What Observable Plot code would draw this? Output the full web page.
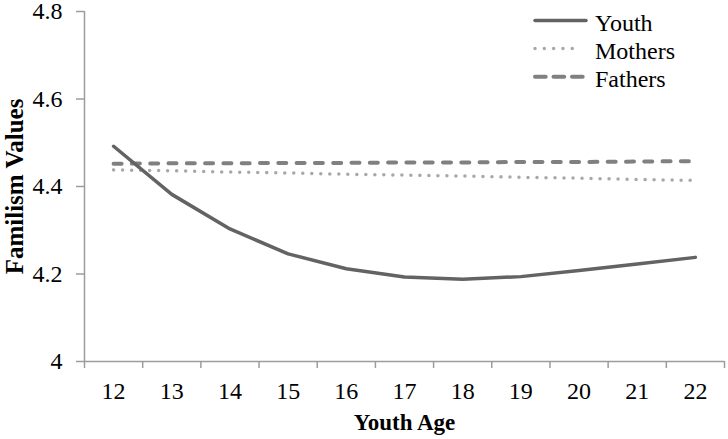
<!DOCTYPE html>
<html>
<head>
<meta charset="utf-8">
<script src="https://cdn.jsdelivr.net/npm/d3@7"></script>
<script src="https://cdn.jsdelivr.net/npm/@observablehq/plot@0.6"></script>
<style>
  html, body { margin: 0; padding: 0; background: #fff; }
  #wrap { position: relative; width: 728px; height: 439px; font-family: "Liberation Serif", "Times New Roman", serif; }
  #wrap svg, #wrap text { font-family: "Liberation Serif", "Times New Roman", serif; }
  #legend { position: absolute; left: 520px; top: 0px; }
</style>
</head>
<body>
<div id="wrap"></div>
<script>
const ages = [12, 13, 14, 15, 16, 17, 18, 19, 20, 21, 22];
const youth = [4.492, 4.382, 4.303, 4.246, 4.212, 4.193, 4.188, 4.194, 4.208, 4.223, 4.238];
const mothers = [4.438, 4.436, 4.433, 4.431, 4.428, 4.426, 4.424, 4.421, 4.419, 4.416, 4.414];
const fathers = [4.452, 4.453, 4.453, 4.454, 4.454, 4.455, 4.455, 4.456, 4.456, 4.457, 4.458];
const yTicks = [4, 4.2, 4.4, 4.6, 4.8];
const seriesNames = ["Youth", "Mothers", "Fathers"];
const xTitle = "Youth Age";
const yTitle = "Familism Values";

const fontStack = "'Liberation Serif', 'Times New Roman', serif";
const styles = {
  Youth: { stroke: "#636363", strokeWidth: 3.5, strokeDasharray: null, legendDash: null },
  Mothers: { stroke: "#a8a8a8", strokeWidth: 3.5, strokeDasharray: "0.01 9", legendDash: "0.01 9.3" },
  Fathers: { stroke: "#808080", strokeWidth: 4, strokeDasharray: "8 10.3", legendDash: "10.7 7.8" }
};
const seriesValues = { Youth: youth, Mothers: mothers, Fathers: fathers };

const rows = (name) => ages.map((a, i) => ({ age: a, value: seriesValues[name][i] }));
const boundaries = [ages[0] - 0.5, ...ages.map(a => a + 0.5)];
const axisColor = "#9c9c9c";

const lineMark = (name) => Plot.line(rows(name), {
  x: "age", y: "value",
  stroke: styles[name].stroke,
  strokeWidth: styles[name].strokeWidth,
  strokeDasharray: styles[name].strokeDasharray,
  strokeLinecap: "round",
  strokeLinejoin: "round"
});

const chart = Plot.plot({
  width: 728,
  height: 439,
  marginLeft: 84,
  marginRight: 4,
  marginTop: 11,
  marginBottom: 78,
  style: { fontFamily: fontStack, fontSize: "24px", color: "#000", background: "#fff", overflow: "visible" },
  x: { type: "linear", domain: [boundaries[0], boundaries[boundaries.length - 1]] },
  y: { domain: [yTicks[0], yTicks[yTicks.length - 1]] },
  marks: [
    Plot.ruleX([boundaries[0]], { stroke: axisColor, strokeWidth: 1.5 }),
    Plot.ruleY([yTicks[0]], { stroke: axisColor, strokeWidth: 1.5 }),
    Plot.axisY({ ticks: yTicks, tickSize: 8, tickPadding: 14, stroke: axisColor, strokeWidth: 1.5, fill: "#000",
      tickFormat: d => (d === 4 ? "4" : d.toFixed(1)), label: null }),
    Plot.axisX({ ticks: boundaries, tickSize: 7, stroke: axisColor, strokeWidth: 1.5, tickFormat: () => "", label: null }),
    Plot.axisX({ ticks: ages, tickSize: 0, tickPadding: 20, fill: "#000", tickFormat: d => String(d), label: null }),
    lineMark("Fathers"),
    lineMark("Mothers"),
    lineMark("Youth"),
    Plot.text([xTitle], { frameAnchor: "bottom", lineAnchor: "middle", textAnchor: "middle", dy: 61.5, fontWeight: "bold", fontSize: 23, fill: "#000" }),
    Plot.text([yTitle], { frameAnchor: "left", lineAnchor: "middle", textAnchor: "middle", dx: -70, dy: 0, rotate: -90, fontWeight: "bold", fontSize: 25, fill: "#000" })
  ]
});

const wrap = document.getElementById("wrap");
wrap.appendChild(chart);

// Legend
const ns = "http://www.w3.org/2000/svg";
const leg = document.createElementNS(ns, "svg");
leg.setAttribute("id", "legend");
leg.setAttribute("width", 200);
leg.setAttribute("height", 100);
seriesNames.forEach((name, i) => {
  const y = 20.5 + i * 28.1;
  const s = styles[name];
  const ln = document.createElementNS(ns, "line");
  ln.setAttribute("x1", 15); ln.setAttribute("x2", name === "Mothers" ? 61 : 66);
  ln.setAttribute("y1", y); ln.setAttribute("y2", y);
  ln.setAttribute("stroke", s.stroke);
  ln.setAttribute("stroke-width", s.strokeWidth);
  ln.setAttribute("stroke-linecap", "round");
  if (s.legendDash) ln.setAttribute("stroke-dasharray", s.legendDash);
  leg.appendChild(ln);
  const t = document.createElementNS(ns, "text");
  t.setAttribute("x", 75); t.setAttribute("y", y + 10.5);
  t.setAttribute("font-size", 24);
  t.setAttribute("font-family", fontStack);
  t.setAttribute("fill", "#000");
  t.textContent = name;
  leg.appendChild(t);
});
wrap.appendChild(leg);
</script>
</body>
</html>
